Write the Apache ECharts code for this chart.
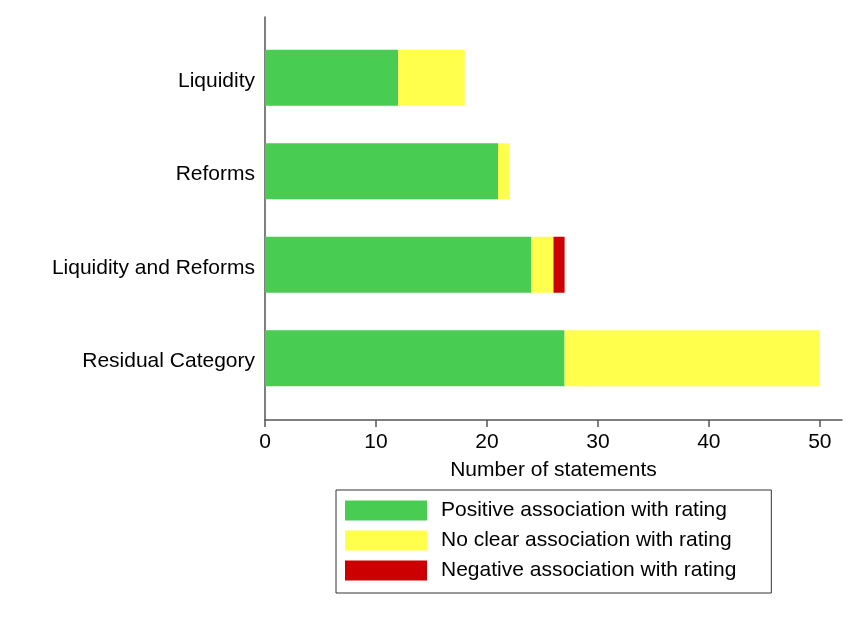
<!DOCTYPE html>
<html>
<head>
<meta charset="utf-8">
<script src="https://cdn.jsdelivr.net/npm/echarts@6/dist/echarts.min.js"></script>
<style>html,body{margin:0;padding:0;background:#fff}#c{width:864px;height:619px}</style>
</head>
<body>
<div id="c"></div>
<script>
const categories = ["Liquidity", "Reforms", "Liquidity and Reforms", "Residual Category"];
const positive = [12, 21, 24, 27];
const noClear = [6, 1, 2, 23];
const negative = [0, 0, 1, 0];
const xTicks = [0, 10, 20, 30, 40, 50];
const seriesNames = ["Positive association with rating", "No clear association with rating", "Negative association with rating"];
const colors = ["#48CD52", "#FFFF4C", "#CC0000"];

const font = "Liberation Sans, Arial, Helvetica, sans-serif";
const axisColor = '#555';
const chart = echarts.init(document.getElementById('c'));
chart.setOption({
  animation: false,
  textStyle: { fontFamily: font },
  grid: [
    { left: 265, right: 22, top: 17, bottom: 199 },
    { left: 265, right: 22, top: 31, bottom: 214 }
  ],
  xAxis: [
    { gridIndex: 0, type: 'value', min: 0, max: 52,
      axisLine: { show: true, lineStyle: { color: axisColor, width: 1.5 } },
      axisTick: { show: true, length: 7, customValues: xTicks, lineStyle: { color: axisColor, width: 1.5 } },
      axisLabel: { customValues: xTicks, color: '#000', fontSize: 21, margin: 12, fontFamily: font },
      splitLine: { show: false },
      name: 'Number of statements', nameLocation: 'middle', nameGap: 40,
      nameTextStyle: { color: '#000', fontSize: 21, fontFamily: font } },
    { gridIndex: 1, type: 'value', min: 0, max: 52, show: false, splitLine: { show: false } }
  ],
  yAxis: [
    { gridIndex: 0, type: 'value', min: 0, max: 1,
      axisLine: { show: true, lineStyle: { color: axisColor, width: 1.5 } },
      axisTick: { show: false }, axisLabel: { show: false }, splitLine: { show: false } },
    { gridIndex: 1, type: 'category', data: categories, inverse: true,
      axisLine: { show: false }, axisTick: { show: false },
      axisLabel: { margin: 10, formatter: '{a|{value}}',
        rich: { a: { color: '#000', fontSize: 21, fontFamily: font, padding: [6, 0, 0, 0] } } } }
  ],
  legend: {
    orient: 'vertical', left: 336, top: 490,
    padding: [10, 35, 12, 9],
    itemWidth: 82, itemHeight: 20, itemGap: 9,
    borderColor: '#333', borderWidth: 1,
    icon: 'rect',
    textStyle: { color: '#000', fontSize: 21, fontFamily: font, padding: [0, 0, 0, 9] },
    data: seriesNames
  },
  series: [
    { name: seriesNames[0], type: 'bar', stack: 's', xAxisIndex: 1, yAxisIndex: 1, data: positive, barWidth: 56, itemStyle: { color: colors[0] } },
    { name: seriesNames[1], type: 'bar', stack: 's', xAxisIndex: 1, yAxisIndex: 1, data: noClear, barWidth: 56, itemStyle: { color: colors[1] } },
    { name: seriesNames[2], type: 'bar', stack: 's', xAxisIndex: 1, yAxisIndex: 1, data: negative, barWidth: 56, itemStyle: { color: colors[2] } }
  ]
});
</script>
</body>
</html>
